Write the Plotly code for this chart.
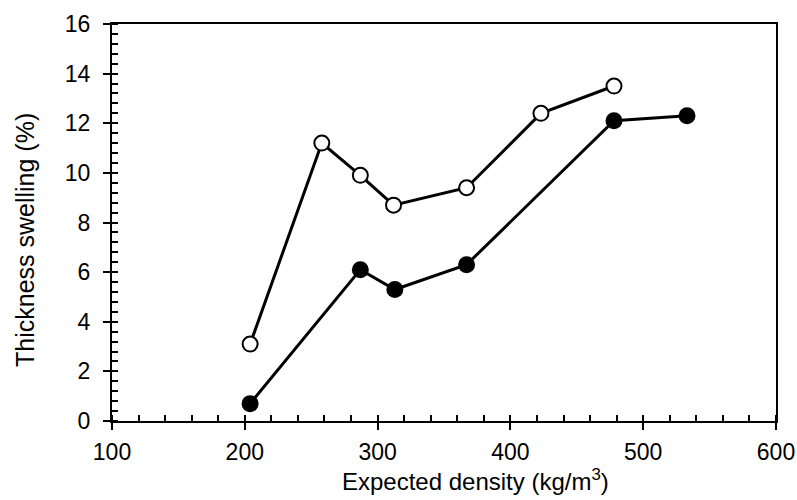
import plotly.graph_objects as go

# Data
open_x = [204, 258, 287, 312, 367, 423, 478]
open_y = [3.1, 11.2, 9.9, 8.7, 9.4, 12.4, 13.5]
filled_x = [204, 287, 313, 367, 478, 533]
filled_y = [0.7, 6.1, 5.3, 6.3, 12.1, 12.3]

x_title = "Expected density (kg/m<sup>3</sup>)"
y_title = "Thickness swelling (%)"

FONT = "Liberation Sans"
FS = 23

fig = go.Figure()
fig.add_trace(go.Scatter(
    x=open_x, y=open_y, mode="lines+markers",
    line=dict(color="black", width=3),
    marker=dict(symbol="circle", size=15, color="white",
                line=dict(color="black", width=2)),
    showlegend=False,
))
fig.add_trace(go.Scatter(
    x=filled_x, y=filled_y, mode="lines+markers",
    line=dict(color="black", width=3),
    marker=dict(symbol="circle", size=17, color="black",
                line=dict(color="black", width=0)),
    showlegend=False,
))
# invisible trace on overlay axes (for inside major ticks)
fig.add_trace(go.Scatter(x=[None], y=[None], xaxis="x2", yaxis="y2",
                         showlegend=False, hoverinfo="skip"))

tfont = dict(family=FONT, size=FS, color="black")
common = dict(showgrid=False, zeroline=False, linecolor="black", linewidth=2,
              tickcolor="black", tickwidth=2, ticklen=7, ticks="outside",
              automargin=False, tickfont=tfont)

fig.update_layout(
    width=797, height=500,
    margin=dict(l=112, r=21, t=24, b=79, autoexpand=False),
    plot_bgcolor="white", paper_bgcolor="white",
    font=dict(family=FONT, size=FS, color="black"),
    xaxis=dict(range=[100, 600], dtick=100, tick0=100, mirror=True,
               ticklabelstandoff=2,
               minor=dict(dtick=20, ticks="inside", ticklen=6, tickwidth=1.5,
                          tickcolor="black"),
               **common),
    yaxis=dict(range=[0, 16], dtick=2, tick0=0, mirror=True,
               ticklabelstandoff=8,
               minor=dict(dtick=0.4, ticks="inside", ticklen=6, tickwidth=1.5,
                          tickcolor="black"),
               **common),
    xaxis2=dict(range=[100, 600], dtick=100, tick0=100, overlaying="x",
                anchor="y2", side="bottom", ticks="inside", ticklen=6,
                tickwidth=2, tickcolor="black", showticklabels=False,
                showgrid=False, zeroline=False, showline=False),
    yaxis2=dict(range=[0, 16], dtick=2, tick0=0, overlaying="y",
                anchor="x2", side="left", ticks="inside", ticklen=6,
                tickwidth=2, tickcolor="black", showticklabels=False,
                showgrid=False, zeroline=False, showline=False),
    annotations=[
        dict(text=x_title, xref="paper", yref="paper", x=0.548, y=-0.148,
             xanchor="center", yanchor="middle", showarrow=False,
             font=dict(family=FONT, size=24, color="black")),
        dict(text=y_title, xref="paper", yref="paper", x=-0.131, y=0.456,
             xanchor="center", yanchor="middle", showarrow=False, textangle=-90,
             font=dict(family=FONT, size=25, color="black")),
    ],
)

fig.write_html(
    "out.html",
    config={"displayModeBar": False},
    post_script="document.body.style.margin='0';document.body.style.overflow='hidden';",
)
